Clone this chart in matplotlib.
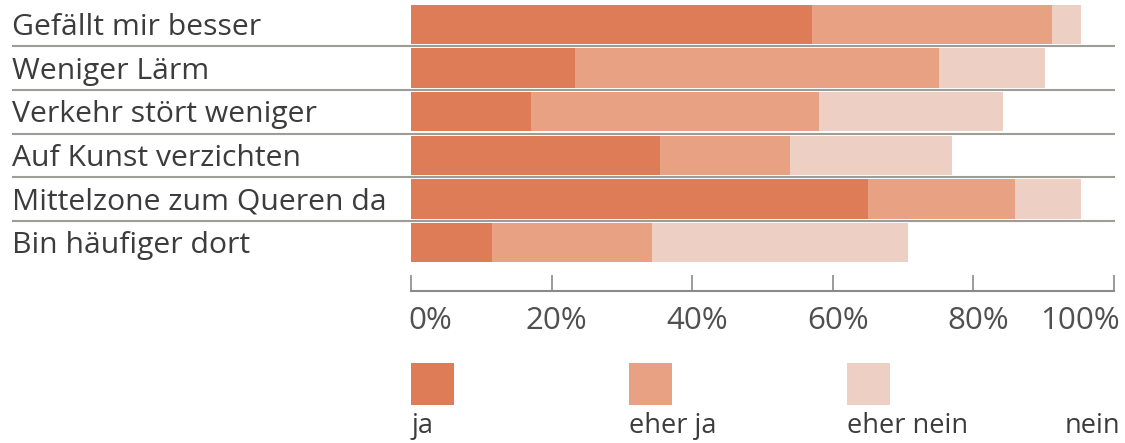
import matplotlib
matplotlib.use("Agg")
import matplotlib.pyplot as plt
import matplotlib.transforms as mtransforms
from matplotlib.patches import Rectangle
import numpy as np

plt.rcParams['font.family'] = ['Open Sans', 'DejaVu Sans']

categories = ["Gefällt mir besser", "Weniger Lärm", "Verkehr stört weniger",
              "Auf Kunst verzichten", "Mittelzone zum Queren da", "Bin häufiger dort"]
ja = [57.0, 23.3, 17.1, 35.4, 65.0, 11.5]
eher_ja = [34.2, 51.8, 40.9, 18.5, 20.9, 22.8]
eher_nein = [4.1, 15.1, 26.2, 23.1, 9.4, 36.4]
nein = [4.7, 9.8, 15.8, 23.0, 4.7, 29.3]
series_names = ["ja", "eher ja", "eher nein", "nein"]
series_colors = ["#DE7C58", "#E8A182", "#EDCFC4", "#FFFFFF"]
tick_vals = [0, 20, 40, 60, 80, 100]
tick_labels = ["0%", "20%", "40%", "60%", "80%", "100%"]

W, H = 1125, 443
fig = plt.figure(figsize=(W / 100, H / 100), dpi=100)

ax_left, ax_right = 411 / W, 1114 / W
ax_bottom = (H - 291) / H
ax = fig.add_axes([ax_left, ax_bottom, ax_right - ax_left, 1 - ax_bottom])
pitch = 43.6
ax.set_xlim(0, 100)
ax.set_ylim(291 / pitch - 24.5 / pitch, -24.5 / pitch)

y = np.arange(len(categories))
left = np.zeros(len(categories))
for vals, col in zip([ja, eher_ja, eher_nein, nein], series_colors):
    ax.barh(y, vals, left=left, height=0.9, color=col, edgecolor='none', zorder=2)
    left += np.array(vals)

# separator lines
trans_line = mtransforms.blended_transform_factory(fig.transFigure, ax.transData)
for i in range(len(categories) - 1):
    ax.plot([12 / W, 1115 / W], [i + 0.5, i + 0.5], transform=trans_line,
            color="#9d9d95", lw=1.5, clip_on=False, zorder=3, solid_capstyle='butt')

# category labels
trans_lab = mtransforms.blended_transform_factory(fig.transFigure, ax.transData)
for i, c in enumerate(categories):
    ax.text(12 / W, i + 0.24, c, transform=trans_lab, ha='left', va='baseline',
            fontsize=21.7, color="#3c3c3c")

# axis
for s in ['top', 'right', 'left']:
    ax.spines[s].set_visible(False)
ax.spines['bottom'].set_color("#8a8a8a")
ax.spines['bottom'].set_linewidth(1.5)
ax.set_yticks([])
ax.set_xticks(tick_vals)
ax.set_xticklabels(tick_labels)
ax.tick_params(axis='x', direction='in', length=11.5, width=1.2, color="#8a8a8a",
               labelsize=22.5, labelcolor="#505050", pad=11)
n = len(tick_labels)
for k, lab in enumerate(ax.get_xticklabels()):
    if k == 0:
        lab.set_horizontalalignment('left')
        dx = -3
    elif k == n - 1:
        lab.set_horizontalalignment('right')
        dx = 6
    else:
        dx = 5
    lab.set_transform(lab.get_transform() + mtransforms.ScaledTranslation(dx / 100, 0, fig.dpi_scale_trans))

# legend
lax = fig.add_axes([ax_left, 0, ax_right - ax_left, (H - 360) / H])
lax.set_xlim(0, 100)
lax.set_ylim(H - 360, 0)
lax.axis('off')
for k, (name, col) in enumerate(zip(series_names, series_colors)):
    x0 = k * 31.0
    lax.add_patch(Rectangle((x0, 3), 6.1, 42, facecolor=col, edgecolor='none'))
    lax.text(x0, 73, name, ha='left', va='baseline', fontsize=19.5, color="#3c3c3c")

fig.savefig("out.png", dpi=100)
